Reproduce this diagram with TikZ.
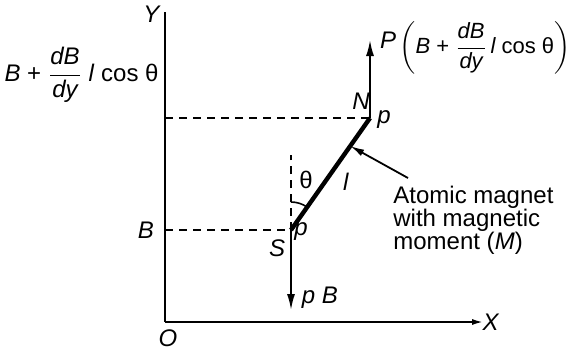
\documentclass[tikz,border=0pt]{standalone}
\usepackage{amsmath}
\usepackage{fontspec}
\setmainfont{Liberation Sans}
\usetikzlibrary{arrows.meta,calc}

\tikzset{
    axis/.style={line width=1.1pt},
    guide/.style={dashed, line width=0.8pt, dash pattern=on 4pt off 3pt},
    force/.style={line width=0.9pt, -{Latex[length=8pt, width=4pt]}},
    magnet/.style={line width=2.2pt},
    lbl/.style={font=\fontsize{12}{11.5}\selectfont, inner sep=1pt}
}

\begin{document}
\begin{tikzpicture}[x=0.5pt, y=-0.5pt]
        \useasboundingbox (0,0) rectangle (577,349);

        \coordinate (O) at (165,322);
        \coordinate (Ytop) at (165,12);
        \coordinate (Xend) at (484,322);
        \coordinate (S) at (291,230);
        \coordinate (N) at (370,118);
        \coordinate (By) at (165,230);
        \coordinate (Ny) at (165,118);
        \coordinate (vtop) at (291,155);
        \coordinate (Ptip) at (370,40);
        \coordinate (pBtip) at (291,310);
        \coordinate (mid) at ($(S)!0.75!(N)$);
        \coordinate (note) at (408,178);

        \draw[axis] (Ytop) -- (O);
        \draw[axis, -{Latex[length=6pt, width=3pt]}] (O) -- (Xend);

        \draw[guide] (Ny) -- (N);
        \draw[guide] (By) -- (S);
        \draw[guide] (S) -- (vtop);

        \draw[magnet] (S) -- (N);
        \draw[force] (N) -- (Ptip);
        \draw[force] (S) -- (pBtip);
        \draw[line width=0.8pt] ($(S)+(0,-28)$) arc[start angle=-90, end angle=-55, radius=28];
        \draw[line width=0.9pt, -{Latex[length=7pt, width=3.5pt]}] (note) -- (mid);

        \node[lbl] (y) at (152,14) {\textit{Y}};
        \node[lbl] (x) at (491,322) {\textit{X}};
        \node[lbl] (o) at (168,338) {\textit{O}};
        \node[lbl, anchor=east] (bt) at (161,75) {\textit{B} + $\dfrac{\textit{dB}}{\textit{dy}}$ \textit{l} cos θ};
        \node[lbl] (b) at (146,230) {\textit{B}};
        \node[lbl] (s) at (277,248) {\textit{S}};
        \node[lbl] (ps) at (301,232) {\textit{p}};
        \node[lbl] (n) at (361,101) {\textit{N}};
        \node[lbl] (pn) at (384,120) {\textit{p}};
        \node[lbl] (th) at (306,180) {θ};
        \node[lbl] (len) at (346,182) {\textit{l}};
        \node[lbl] (pf) at (388,40) {\textit{P}};
        \node[lbl, font=\fontsize{11}{11}\selectfont, anchor=west] (pt) at (397,48) {$\bigg(\textit{B}\text{ + }\dfrac{\textit{dB}}{\textit{dy}}\,\textit{l}\text{ cos θ}\bigg)$};
        \node[lbl] (pb) at (320,298) {\textit{p B}};
        \node[lbl, anchor=north west, align=left] (am) at (391,184) {Atomic magnet\\with magnetic\\moment (\textit{M})};
\end{tikzpicture}
\end{document}
